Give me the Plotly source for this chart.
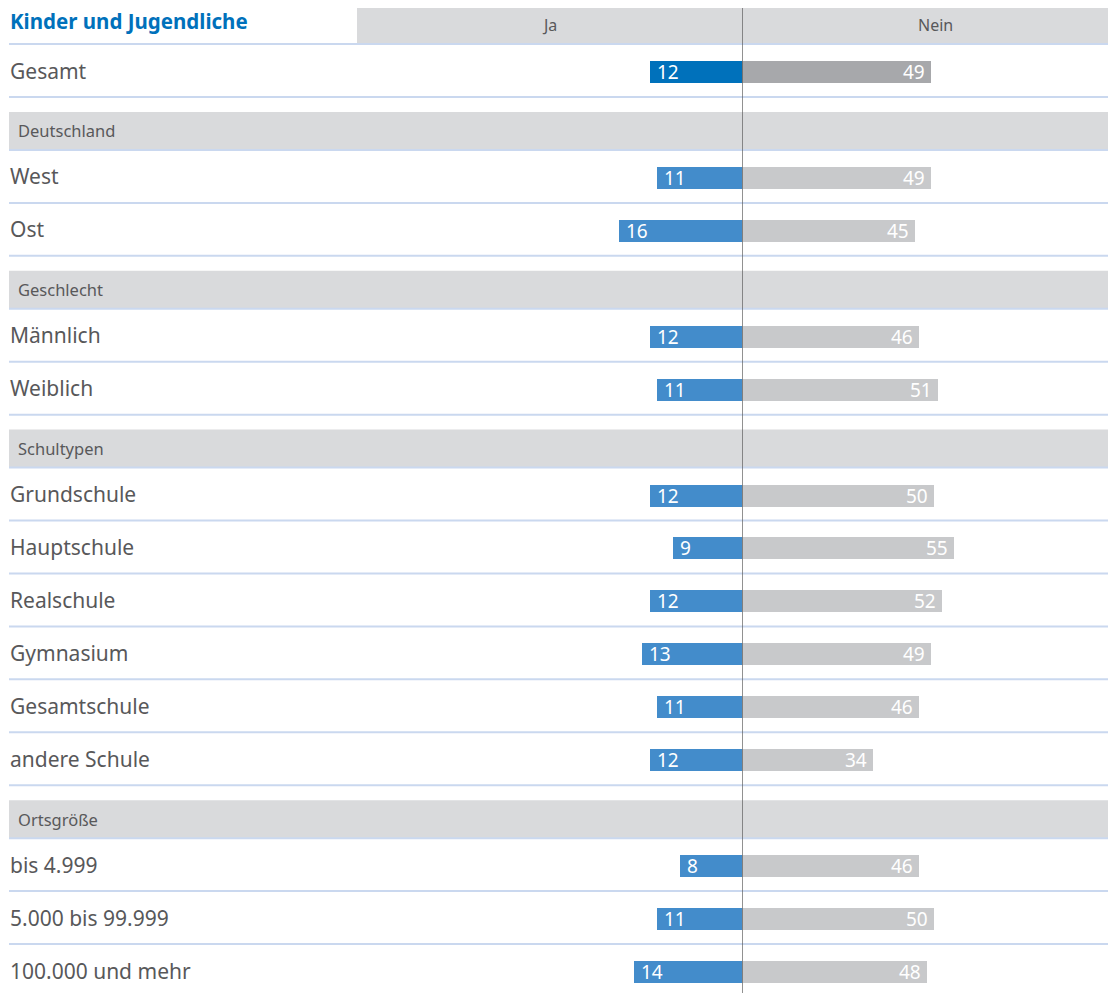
import plotly.graph_objects as go

title = "Kinder und Jugendliche"
col_ja = "Ja"
col_nein = "Nein"

rows = ["Gesamt", "Deutschland", "West", "Ost", "Geschlecht", "Männlich", "Weiblich",
        "Schultypen", "Grundschule", "Hauptschule", "Realschule", "Gymnasium",
        "Gesamtschule", "andere Schule", "Ortsgröße", "bis 4.999", "5.000 bis 99.999",
        "100.000 und mehr"]
sections = ["Deutschland", "Geschlecht", "Schultypen", "Ortsgröße"]

categories = ["Gesamt", "West", "Ost", "Männlich", "Weiblich", "Grundschule", "Hauptschule",
              "Realschule", "Gymnasium", "Gesamtschule", "andere Schule", "bis 4.999",
              "5.000 bis 99.999", "100.000 und mehr"]
ja = [12, 11, 16, 12, 11, 12, 9, 12, 13, 11, 12, 8, 11, 14]
nein = [49, 49, 45, 46, 51, 50, 55, 52, 49, 46, 34, 46, 50, 48]

# page offset of the figure (body margin) and screen size
OFF = 8
SW, SH = 1116, 993
W, H = SW - OFF, SH - OFF
PITCH = 52.94
P0 = 44.06


def ypix(p):
    return (p - P0) / PITCH + 0.5


def xp(s):
    return (s - OFF) / W


row_pos = {name: i + 1 for i, name in enumerate(rows)}
bar_y = [row_pos[c] + 0.028 for c in categories]
bar_w = 22 / PITCH

ja_colors = ["#0071bb"] + ["#438ccb"] * (len(categories) - 1)
nein_colors = ["#a7a8ab"] + ["#c8c9cb"] * (len(categories) - 1)

fig = go.Figure()
fig.add_trace(go.Bar(y=bar_y, x=ja, orientation="h", width=bar_w, marker=dict(color=ja_colors, line=dict(width=0)),
                     xaxis="x", yaxis="y", hoverinfo="skip", showlegend=False))
fig.add_trace(go.Bar(y=bar_y, x=nein, orientation="h", width=bar_w, marker=dict(color=nein_colors, line=dict(width=0)),
                     xaxis="x2", yaxis="y", hoverinfo="skip", showlegend=False))

FONT = "Noto Sans"
GRAY = "#58585a"
shapes = []
annotations = []

shapes.append(dict(type="rect", xref="paper", yref="y", x0=xp(357), x1=1, y0=-0.218, y1=0.5,
                   fillcolor="#d9dadc", line=dict(width=0), layer="below"))
annotations.append(dict(xref="paper", yref="y", x=xp(8), y=0.06, text="<b>" + title + "</b>", showarrow=False,
                        xanchor="left", yanchor="middle", font=dict(family=FONT, size=20.5, color="#0071bb")))
annotations.append(dict(xref="paper", yref="y", x=xp((357 + 742) / 2), y=0.141, text=col_ja, showarrow=False,
                        xanchor="center", yanchor="middle", font=dict(family=FONT, size=16, color=GRAY)))
annotations.append(dict(xref="paper", yref="y", x=xp((742 + 1116) / 2 + 6), y=0.141, text=col_nein, showarrow=False,
                        xanchor="center", yanchor="middle", font=dict(family=FONT, size=16, color=GRAY)))

for name in rows:
    i = row_pos[name]
    if name in sections:
        shapes.append(dict(type="rect", xref="paper", yref="y", x0=xp(9), x1=1, y0=i - 0.218, y1=i + 0.5,
                           fillcolor="#d9dadc", line=dict(width=0), layer="below"))
        annotations.append(dict(xref="paper", yref="y", x=xp(16), y=i + 0.141, text=name, showarrow=False,
                                xanchor="left", yanchor="middle", font=dict(family=FONT, size=16.5, color=GRAY)))
    else:
        annotations.append(dict(xref="paper", yref="y", x=xp(8), y=i, text=name, showarrow=False,
                                xanchor="left", yanchor="middle", font=dict(family=FONT, size=21, color=GRAY)))

for i in range(0, len(rows)):
    shapes.append(dict(type="line", xref="paper", yref="y", x0=xp(9), x1=1, y0=i + 0.5, y1=i + 0.5,
                       line=dict(color="#cad8ef", width=2), layer="below"))

for c, yv, a, b in zip(categories, bar_y, ja, nein):
    annotations.append(dict(xref="x", yref="y", x=a, y=yv, text=str(a), showarrow=False, xanchor="left",
                            xshift=5, yanchor="middle", font=dict(family=FONT, size=19, color="white")))
    annotations.append(dict(xref="x2", yref="y", x=b, y=yv, text=str(b), showarrow=False, xanchor="right",
                            xshift=-4, yanchor="middle", font=dict(family=FONT, size=19, color="white")))

shapes.append(dict(type="line", xref="x2", yref="y", x0=0, x1=0, y0=-0.218, y1=ypix(SH),
                   line=dict(color="#555555", width=1.3), layer="above"))

fig.update_layout(
    width=W, height=H,
    margin=dict(l=0, r=0, t=0, b=0),
    paper_bgcolor="white", plot_bgcolor="rgba(0,0,0,0)",
    xaxis=dict(domain=[xp(357), xp(742)], range=[50, 0], visible=False, fixedrange=True),
    xaxis2=dict(domain=[xp(742), 1], range=[0, 97.2], visible=False, anchor="y", fixedrange=True),
    yaxis=dict(range=[ypix(SH), ypix(OFF)], visible=False, fixedrange=True),
    shapes=shapes, annotations=annotations, bargap=0,
)
fig.write_html("out.html")
